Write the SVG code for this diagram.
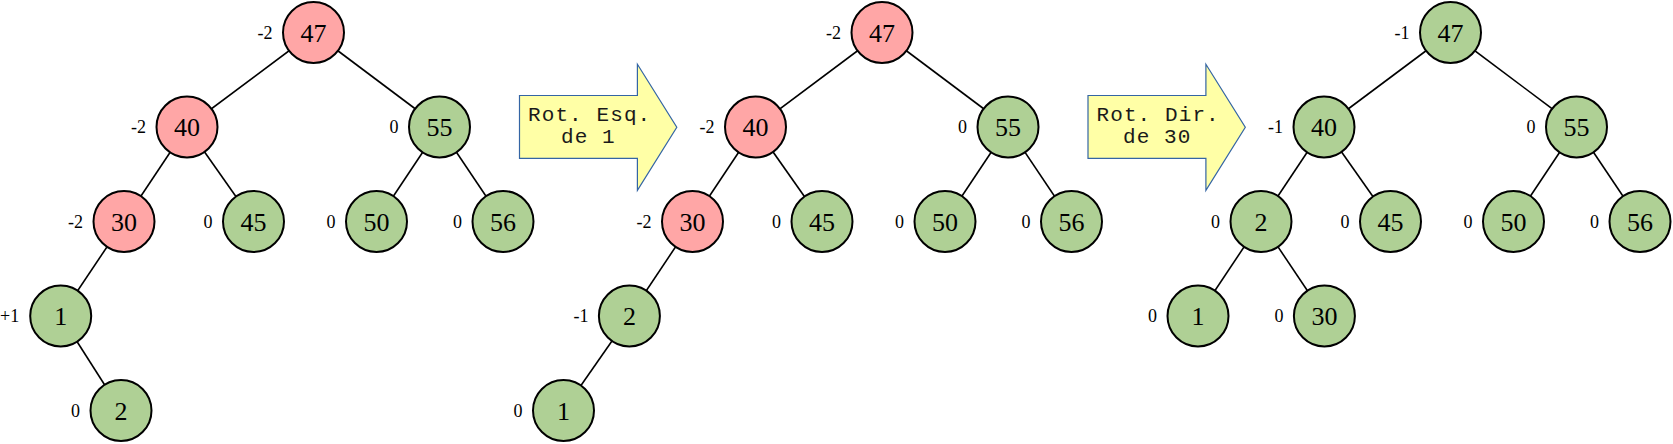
<svg xmlns="http://www.w3.org/2000/svg" width="1673" height="444" viewBox="0 0 1673 444">
<style>
.n circle{stroke:#000;stroke-width:2}
.r circle{fill:#FFA6A6}
.g circle{fill:#AFD095}
.v{font-family:"Liberation Serif","Times New Roman",serif;font-size:26px;text-anchor:middle;fill:#000}
.b{font-family:"Liberation Serif","Times New Roman",serif;font-size:18px;text-anchor:end;fill:#000}
.e line{stroke:#000;stroke-width:1.6}
.arr path{fill:#FFFFA6;stroke:#3465A4;stroke-width:1.2}
.arr text{font-family:"Liberation Mono","Courier New",monospace;font-size:21px;letter-spacing:1.1px;fill:#1a1a1a}
</style>
<rect width="1673" height="444" fill="#fff"/>
<g id="connectors" class="e">
<line x1="313.5" y1="32.5" x2="187" y2="127"/>
<line x1="313.5" y1="32.5" x2="439.5" y2="127"/>
<line x1="187" y1="127" x2="124" y2="221.5"/>
<line x1="187" y1="127" x2="253.5" y2="221.5"/>
<line x1="439.5" y1="127" x2="376.5" y2="221.5"/>
<line x1="439.5" y1="127" x2="503" y2="221.5"/>
<line x1="124" y1="221.5" x2="60.7" y2="316"/>
<line x1="60.7" y1="316" x2="121" y2="410.5"/>
<line x1="882" y1="32.5" x2="755.5" y2="127"/>
<line x1="882" y1="32.5" x2="1008" y2="127"/>
<line x1="755.5" y1="127" x2="692.5" y2="221.5"/>
<line x1="755.5" y1="127" x2="822" y2="221.5"/>
<line x1="1008" y1="127" x2="945" y2="221.5"/>
<line x1="1008" y1="127" x2="1071.5" y2="221.5"/>
<line x1="692.5" y1="221.5" x2="629.4" y2="316"/>
<line x1="629.4" y1="316" x2="563.5" y2="410.5"/>
<line x1="1450.5" y1="32.5" x2="1324" y2="127"/>
<line x1="1450.5" y1="32.5" x2="1576.5" y2="127"/>
<line x1="1324" y1="127" x2="1261" y2="221.5"/>
<line x1="1324" y1="127" x2="1390.5" y2="221.5"/>
<line x1="1576.5" y1="127" x2="1513.5" y2="221.5"/>
<line x1="1576.5" y1="127" x2="1640" y2="221.5"/>
<line x1="1261" y1="221.5" x2="1198" y2="316"/>
<line x1="1261" y1="221.5" x2="1324.4" y2="316"/>
</g>
<g id="arrow1" class="arr">
<path d="M519.5,95.5 H637.4 V64.3 L676.8,127.3 L637.4,190.3 V158.3 H519.5 Z"/>
<text x="528" y="121">Rot. Esq.</text>
<text x="561" y="143.3">de 1</text>
</g>
<g id="arrow2" class="arr">
<path d="M1088,95.5 H1205.9 V64.3 L1245.3,127.3 L1205.9,190.3 V158.3 H1088 Z"/>
<text x="1096.5" y="121">Rot. Dir.</text>
<text x="1123" y="143.3">de 30</text>
</g>
<!-- Tree 1 -->
<g id="t1-47" class="n r"><circle cx="313.5" cy="32.5" r="30.5"/><text class="v" x="313.5" y="41.5">47</text><text class="b" x="272.5" y="38.5">-2</text></g>
<g id="t1-40" class="n r"><circle cx="187" cy="127" r="30.5"/><text class="v" x="187" y="136">40</text><text class="b" x="146" y="133">-2</text></g>
<g id="t1-55" class="n g"><circle cx="439.5" cy="127" r="30.5"/><text class="v" x="439.5" y="136">55</text><text class="b" x="398.5" y="133">0</text></g>
<g id="t1-30" class="n r"><circle cx="124" cy="221.5" r="30.5"/><text class="v" x="124" y="230.5">30</text><text class="b" x="83" y="227.5">-2</text></g>
<g id="t1-45" class="n g"><circle cx="253.5" cy="221.5" r="30.5"/><text class="v" x="253.5" y="230.5">45</text><text class="b" x="212.5" y="227.5">0</text></g>
<g id="t1-50" class="n g"><circle cx="376.5" cy="221.5" r="30.5"/><text class="v" x="376.5" y="230.5">50</text><text class="b" x="335.5" y="227.5">0</text></g>
<g id="t1-56" class="n g"><circle cx="503" cy="221.5" r="30.5"/><text class="v" x="503" y="230.5">56</text><text class="b" x="462" y="227.5">0</text></g>
<g id="t1-1" class="n g"><circle cx="60.7" cy="316" r="30.5"/><text class="v" x="60.7" y="325">1</text><text class="b" x="19.2" y="322">+1</text></g>
<g id="t1-2" class="n g"><circle cx="121" cy="410.5" r="30.5"/><text class="v" x="121" y="419.5">2</text><text class="b" x="80" y="416.5">0</text></g>
<!-- Tree 2 -->
<g id="t2-47" class="n r"><circle cx="882" cy="32.5" r="30.5"/><text class="v" x="882" y="41.5">47</text><text class="b" x="841" y="38.5">-2</text></g>
<g id="t2-40" class="n r"><circle cx="755.5" cy="127" r="30.5"/><text class="v" x="755.5" y="136">40</text><text class="b" x="714.5" y="133">-2</text></g>
<g id="t2-55" class="n g"><circle cx="1008" cy="127" r="30.5"/><text class="v" x="1008" y="136">55</text><text class="b" x="967" y="133">0</text></g>
<g id="t2-30" class="n r"><circle cx="692.5" cy="221.5" r="30.5"/><text class="v" x="692.5" y="230.5">30</text><text class="b" x="651.5" y="227.5">-2</text></g>
<g id="t2-45" class="n g"><circle cx="822" cy="221.5" r="30.5"/><text class="v" x="822" y="230.5">45</text><text class="b" x="781" y="227.5">0</text></g>
<g id="t2-50" class="n g"><circle cx="945" cy="221.5" r="30.5"/><text class="v" x="945" y="230.5">50</text><text class="b" x="904" y="227.5">0</text></g>
<g id="t2-56" class="n g"><circle cx="1071.5" cy="221.5" r="30.5"/><text class="v" x="1071.5" y="230.5">56</text><text class="b" x="1030.5" y="227.5">0</text></g>
<g id="t2-2" class="n g"><circle cx="629.4" cy="316" r="30.5"/><text class="v" x="629.4" y="325">2</text><text class="b" x="588.4" y="322">-1</text></g>
<g id="t2-1" class="n g"><circle cx="563.5" cy="410.5" r="30.5"/><text class="v" x="563.5" y="419.5">1</text><text class="b" x="522.5" y="416.5">0</text></g>
<!-- Tree 3 -->
<g id="t3-47" class="n g"><circle cx="1450.5" cy="32.5" r="30.5"/><text class="v" x="1450.5" y="41.5">47</text><text class="b" x="1409.5" y="38.5">-1</text></g>
<g id="t3-40" class="n g"><circle cx="1324" cy="127" r="30.5"/><text class="v" x="1324" y="136">40</text><text class="b" x="1283" y="133">-1</text></g>
<g id="t3-55" class="n g"><circle cx="1576.5" cy="127" r="30.5"/><text class="v" x="1576.5" y="136">55</text><text class="b" x="1535.5" y="133">0</text></g>
<g id="t3-2" class="n g"><circle cx="1261" cy="221.5" r="30.5"/><text class="v" x="1261" y="230.5">2</text><text class="b" x="1220" y="227.5">0</text></g>
<g id="t3-45" class="n g"><circle cx="1390.5" cy="221.5" r="30.5"/><text class="v" x="1390.5" y="230.5">45</text><text class="b" x="1349.5" y="227.5">0</text></g>
<g id="t3-50" class="n g"><circle cx="1513.5" cy="221.5" r="30.5"/><text class="v" x="1513.5" y="230.5">50</text><text class="b" x="1472.5" y="227.5">0</text></g>
<g id="t3-56" class="n g"><circle cx="1640" cy="221.5" r="30.5"/><text class="v" x="1640" y="230.5">56</text><text class="b" x="1599" y="227.5">0</text></g>
<g id="t3-1" class="n g"><circle cx="1198" cy="316" r="30.5"/><text class="v" x="1198" y="325">1</text><text class="b" x="1157" y="322">0</text></g>
<g id="t3-30" class="n g"><circle cx="1324.4" cy="316" r="30.5"/><text class="v" x="1324.4" y="325">30</text><text class="b" x="1283.4" y="322">0</text></g>
</svg>
